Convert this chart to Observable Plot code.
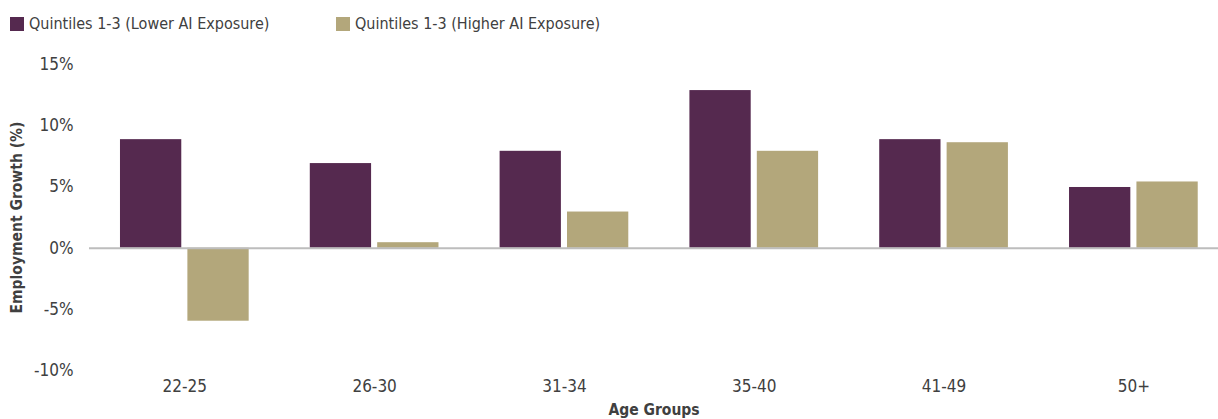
<!DOCTYPE html>
<html>
<head>
<meta charset="utf-8">
<script src="https://cdn.jsdelivr.net/npm/d3@7"></script>
<script src="https://cdn.jsdelivr.net/npm/@observablehq/plot@0.6"></script>
<style>
  html, body { margin: 0; padding: 0; background: #fff; }
  body { width: 1218px; height: 419px; overflow: hidden; font-family: "Liberation Sans Narrow", "DejaVu Sans Condensed", sans-serif; color: #404040; }
  #legend { height: 42px; font-size: 16px; color: #404040; }
  .item { display: flex; align-items: center; position: absolute; top: 14px; }
  .sw { width: 14px; height: 14px; margin-right: 5px; }
  svg { display: block; font-family: "Liberation Sans Narrow", "DejaVu Sans Condensed", sans-serif; }
  g[aria-label="y-axis label"] text, g[aria-label="x-axis label"] text { font-weight: 700; font-size: 15.5px; }
</style>
</head>
<body>
<div id="legend"></div>
<div id="chart"></div>
<script>
const ages = ["22-25", "26-30", "31-34", "35-40", "41-49", "50+"];
const lowerExposure = [8.85, 6.9, 7.9, 12.85, 8.85, 4.95];
const higherExposure = [-5.95, 0.45, 2.95, 7.9, 8.6, 5.4];
const seriesNames = ["Quintiles 1-3 (Lower AI Exposure)", "Quintiles 1-3 (Higher AI Exposure)"];
const seriesColors = ["#55294f", "#b3a77b"];
const yTicks = [-10, -5, 0, 5, 10, 15];

const lowerData = ages.map((a, i) => ({age: a, value: lowerExposure[i]}));
const higherData = ages.map((a, i) => ({age: a, value: higherExposure[i]}));

// legend
const legend = document.getElementById("legend");
const legendLeft = [10, 336];
seriesNames.forEach((name, i) => {
  const it = document.createElement("div");
  it.className = "item";
  it.style.left = legendLeft[i] + "px";
  const sw = document.createElement("div");
  sw.className = "sw";
  sw.style.background = seriesColors[i];
  const tx = document.createElement("span");
  tx.textContent = name;
  it.appendChild(sw); it.appendChild(tx);
  legend.appendChild(it);
});

const barGap = 67.4;
const chart = Plot.plot({
  width: 1218,
  height: 377,
  marginLeft: 89,
  marginRight: 0,
  marginTop: 21.7,
  marginBottom: 48.6,
  style: {fontSize: "17px", color: "#404040", background: "#fff"},
  x: {domain: ages, range: [101, 1216.7], paddingInner: 0.322, paddingOuter: 0.1, round: false},
  y: {domain: [-10, 15]},
  marks: [
    Plot.barY(lowerData, {x: "age", y: "value", fill: seriesColors[0], insetRight: barGap}),
    Plot.barY(higherData, {x: "age", y: "value", fill: seriesColors[1], insetLeft: barGap}),
    Plot.ruleY([0], {stroke: "#bdbdbd", strokeWidth: 2}),
    Plot.axisY({ticks: yTicks, tickFormat: d => d + "%", tickSize: 0, tickPadding: 16,
      label: "Employment Growth (%)", labelAnchor: "center", labelOffset: 79, labelArrow: "none"}),
    Plot.axisX({tickSize: 0, tickPadding: 9, label: "Age Groups", labelAnchor: "center", labelOffset: 44, labelArrow: "none"})
  ]
});
document.getElementById("chart").appendChild(chart);
</script>
</body>
</html>
